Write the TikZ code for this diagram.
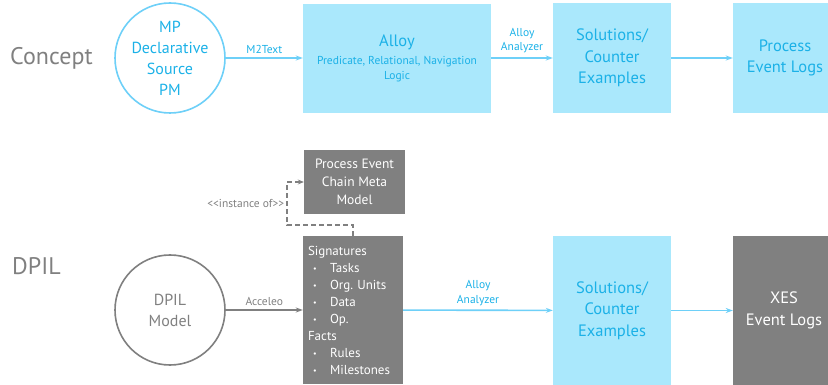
\documentclass[tikz,border=0pt]{standalone}
\usepackage{fontspec}
\setmainfont{PT Sans}
\frenchspacing
\usepackage{xcolor}
\usepackage{tikz}
\usetikzlibrary{arrows.meta, positioning}
\definecolor{alloyblue}{RGB}{27, 177, 231}
\definecolor{alloyfill}{RGB}{170, 232, 252}
\definecolor{alloyline}{RGB}{110, 208, 248}
\definecolor{dpilgray}{RGB}{128, 128, 128}
\newcommand{\bul}{\makebox[22pt][l]{\hspace{5pt}\raisebox{1pt}{\fontsize{8}{8}\selectfont\textbullet}}}

\begin{document}
\begin{tikzpicture}[x=1pt, y=-1pt, every node/.style={inner sep=0pt},
  rowlabel/.style={font=\fontsize{24}{28}\selectfont, text=dpilgray, anchor=west},
  srcmodel/.style={circle, minimum size=110pt, line width=1.6pt, align=center, font=\fontsize{16}{21}\selectfont},
  bluebox/.style={fill=alloyfill, text=alloyblue, align=center, font=\fontsize{16.5}{21.5}\selectfont},
  graybox/.style={fill=dpilgray, text=white, align=center, font=\fontsize{16.5}{21.5}\selectfont},
  flowlabel/.style={font=\fontsize{11.5}{14.5}\selectfont, align=center},
  blueflow/.style={draw=alloyline, line width=1.6pt, -{Stealth[length=7pt, width=5pt]}},
  grayflow/.style={draw=dpilgray, line width=1.6pt, -{Stealth[length=7pt, width=5pt]}}]
\useasboundingbox (0,0) rectangle (828,385);
\clip (0,0) rectangle (828,385);
% concept row
\node[rowlabel] (concept) at (10,58) {Concept};
\node[srcmodel, draw=alloyline, text=alloyblue] (mp) at (170,58) {MP\\Declarative\\Source\\PM};
\node[bluebox, minimum width=188pt, minimum height=109pt, font=\fontsize{11.5}{15}\selectfont] (alloy) at (397,58.5)
  {{\fontsize{16.5}{20}\selectfont Alloy}\\[3pt]Predicate, Relational, Navigation\\Logic};
\node[bluebox, minimum width=118pt, minimum height=110pt] (soltop) at (612,58) {Solutions/\\Counter\\Examples};
\node[bluebox, minimum width=104pt, minimum height=110pt] (logtop) at (785,58) {Process\\Event Logs};
\draw[blueflow] (mp) -- node[flowlabel, text=alloyblue, above=4pt] {M2Text} (mp -| alloy.west);
\draw[blueflow] (alloy.east |- soltop) -- node[flowlabel, text=alloyblue, above=4pt] {Alloy\\Analyzer} (soltop);
\draw[blueflow] (soltop) -- (logtop);
% dpil row
\node[rowlabel] (dpil) at (12,266) {DPIL};
\node[srcmodel, draw=dpilgray, text=dpilgray] (dpilmodel) at (170,310) {DPIL\\Model};
\node[fill=dpilgray, text=white, align=left, minimum width=100pt, minimum height=148pt,
  text width=90pt, inner xsep=5pt, font=\fontsize{13}{17}\selectfont] (sig) at (353,310)
  {Signatures\\\bul Tasks\\\bul Org. Units\\\bul Data\\\bul Op.\\Facts\\\bul Rules\\\bul Milestones};
\node[graybox, minimum width=101pt, minimum height=64pt, font=\fontsize{13.5}{18}\selectfont] (meta) at (354.5,182)
  {Process Event\\Chain Meta\\Model};
\node[bluebox, minimum width=118pt, minimum height=149pt] (solbot) at (612,310.5) {Solutions/\\Counter\\Examples};
\node[graybox, minimum width=102pt, minimum height=149pt] (xes) at (784,310.5) {XES\\Event Logs};
\coordinate (bend) at (287,225);
\draw[grayflow] (dpilmodel) -- node[flowlabel, text=dpilgray, above=4pt] {Acceleo} (sig);
\draw[draw=dpilgray, line width=1.6pt, dash pattern=on 5pt off 3pt, -{Stealth[length=6pt, width=5pt]}]
  (sig.north) -- (sig.north |- bend) -- (bend) -- node[flowlabel, text=dpilgray, left=2pt] {<\kern0pt<instance of>\kern0pt>} (bend |- meta.west) -- (meta.west);
\draw[blueflow] (sig) -- node[flowlabel, text=alloyblue, above=4pt] {Alloy\\Analyzer} (solbot);
\draw[blueflow] (solbot) -- (xes);
\end{tikzpicture}
\end{document}
